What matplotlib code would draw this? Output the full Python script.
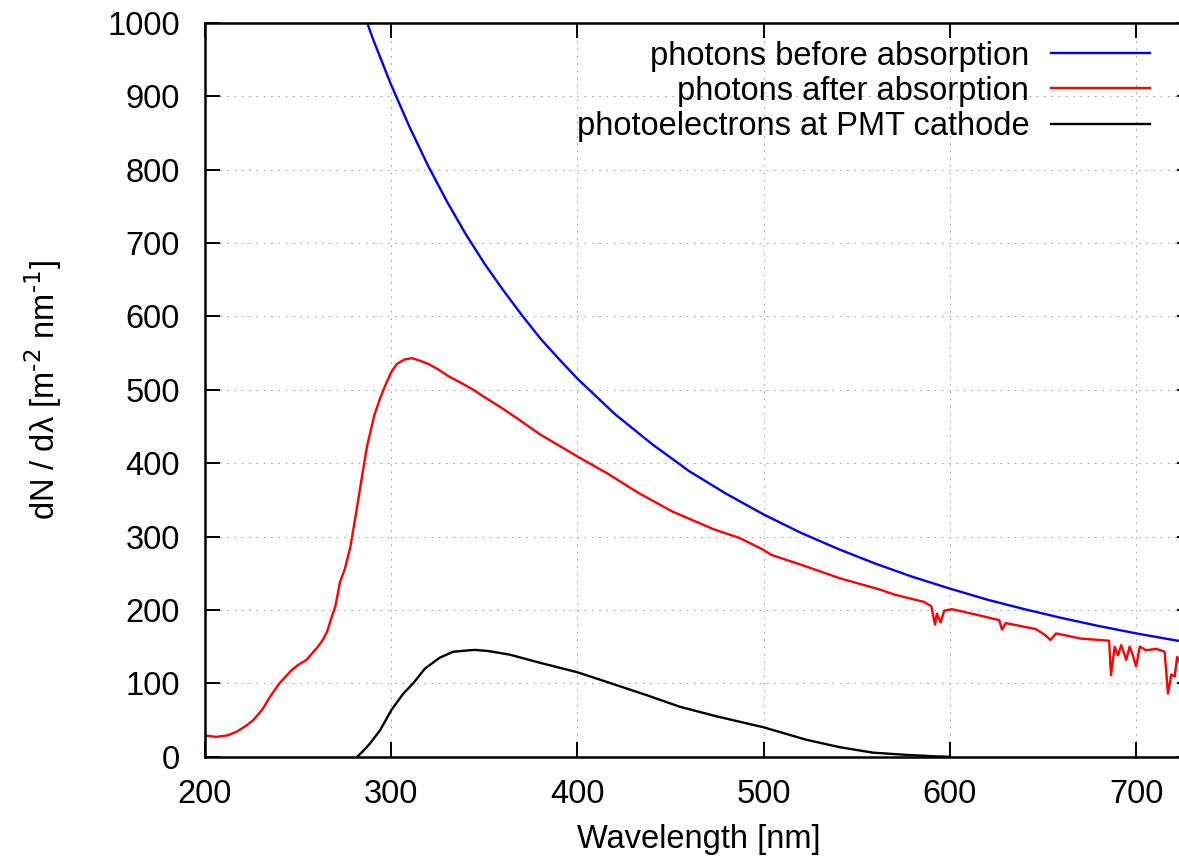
import numpy as np
import matplotlib
matplotlib.use('Agg')
import matplotlib.pyplot as plt

plt.rcParams['font.family'] = ['Liberation Sans', 'DejaVu Sans']
plt.rcParams['font.size'] = 23.5

# photons before absorption
wl_before = [280, 290, 300, 310, 320, 330, 340, 350, 360, 370, 380, 390, 400,
             420, 440, 460, 480, 500, 520, 540, 560, 580, 600, 620, 640, 660,
             680, 700, 720, 730]
n_before = [1051, 979, 915, 857, 804, 756, 712, 672, 636, 602, 570, 542, 515,
            467, 426, 389, 358, 330, 305, 283, 263, 245, 229, 214, 201, 189,
            178, 168, 159, 155]

# photons after absorption
wl_after = [200, 206, 212, 217, 222, 226, 231, 235, 240, 246.5, 250, 254.5,
            260, 263, 265.5, 268, 270, 272.5, 275, 278, 281, 284, 287, 291,
            294, 297, 300, 303, 307, 311, 316, 320, 325, 331, 337, 344, 350,
            360, 367, 380, 390, 400, 416, 433, 451, 473, 487, 499, 501, 504,
            523, 541, 562, 570, 586, 590, 592, 593, 595, 597, 601, 615, 626.5,
            628, 630, 646, 651, 654, 657, 670, 685.5, 686.5, 688.5, 690.3, 692,
            694.7, 696.5, 698, 700, 702, 705.4, 710.8, 715.3, 717.1, 718.9,
            720.7, 722, 724, 727, 730]
n_after = [29, 27, 29, 34, 42, 50, 65, 82, 100, 118, 125, 132,
           148, 158, 170, 190, 205, 238, 255, 285, 330, 377, 423, 466,
           488, 507, 524, 535, 541, 543, 539, 535, 528, 518, 510, 500, 490,
           474, 462, 439, 424, 409, 386, 359, 334, 310, 298, 283, 280, 275,
           259, 243, 228, 221, 211, 205, 180, 195, 183, 199, 201, 193, 186,
           173, 182, 174, 166, 159, 168, 161, 158, 111, 150, 138, 152,
           132, 150, 140, 123, 150, 145, 147, 143, 86, 112,
           109, 136, 125, 130, 128]

# photoelectrons at PMT cathode
wl_pe = [281.8, 285, 288.6, 294, 300.2, 306.5, 311.8, 318.1, 326.1, 333.3,
         342, 345, 352, 363.7, 379.8, 400, 415.6, 437, 455, 474.7, 500, 523,
         540.8, 558.7, 576.6, 592, 600]
n_pe = [0, 8, 18, 36, 64, 86, 100, 120, 135, 143,
        145, 145.5, 144, 139, 128, 115, 102, 84, 68, 55, 40, 23,
        13, 5.5, 2.5, 0.5, 0]

W, H = 1179, 867
fig = plt.figure(figsize=(W / 100, H / 100), dpi=100)
ax = fig.add_axes([205 / W, 1 - 756.7 / H, (1192 - 205) / W, (756.7 - 22.7) / H])

ax.plot(wl_before, n_before, color='#0000ff', lw=1.7, label='photons before absorption')
ax.plot(wl_after, n_after, color='#ff0000', lw=1.7, label='photons after absorption')
ax.plot(wl_pe, n_pe, color='#000000', lw=1.7, label='photoelectrons at PMT cathode')

ax.set_xlim(200, 730)
ax.set_ylim(0, 1000)
ax.set_xticks(np.arange(200, 701, 100))
ax.set_yticks(np.arange(0, 1001, 100))

# gnuplot-like dotted grid and inward mirrored ticks
ax.grid(True, color='#a0a0a0', linestyle=(0, (1.5, 5.5)), linewidth=0.75)
ax.set_axisbelow(True)
ax.tick_params(direction='in', length=10.8, width=1.4, top=True, right=True,
               labelsize=23.5)
ax.tick_params(axis='y', pad=18)
ax.tick_params(axis='x', pad=16)
for s in ax.spines.values():
    s.set_linewidth(1.8)

ax.set_xlabel('Wavelength [nm]')
ax.xaxis.set_label_coords(0.5, -0.092)
ax.set_ylabel(r'dN / dλ [m$^{\text{-2}}$ nm$^{\text{-1}}$]')
ax.yaxis.set_label_coords(-0.143, 0.5)

ax.legend(loc='upper right', bbox_to_anchor=(1150 / W, 1 - 40.5 / H),
          bbox_transform=fig.transFigure, markerfirst=False, frameon=False,
          handlelength=3.03, handletextpad=0.67, labelspacing=0.13,
          borderpad=0, borderaxespad=0, fontsize=23.5)

fig.savefig('out.png', dpi=100)
